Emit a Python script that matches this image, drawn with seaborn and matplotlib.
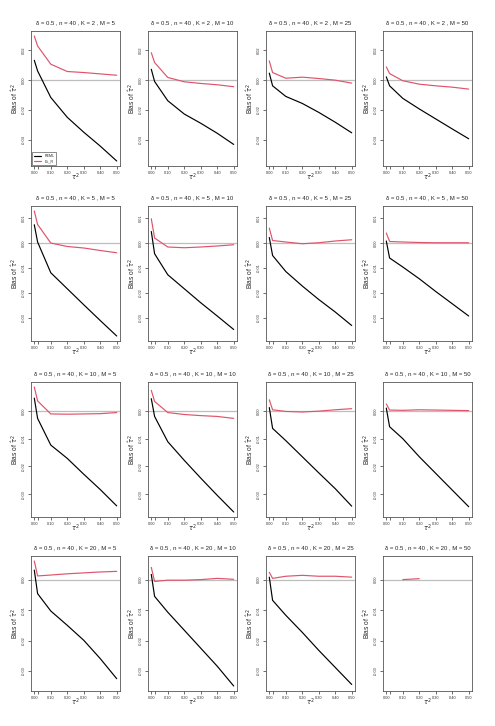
import numpy as np
import pandas as pd
import matplotlib
matplotlib.use('Agg')
import matplotlib.pyplot as plt
import seaborn as sns
from matplotlib.ticker import FormatStrFormatter, FixedLocator

# tau^2 grid and simulation settings
tau2 = [0.0, 0.02, 0.1, 0.2, 0.3, 0.4, 0.5]
K_vals = [2, 5, 10, 20]
M_vals = [5, 10, 25, 50]

# bias of tau^2 estimates, one list per M (5, 10, 25, 50)
reml_k2 = [[0.0133, 0.0062, -0.0116, -0.0249, -0.0349, -0.0442, -0.0542],
           [0.0073, -0.0009, -0.0138, -0.0227, -0.0289, -0.0356, -0.0431],
           [0.0047, -0.0038, -0.0109, -0.0156, -0.0216, -0.0282, -0.0353],
           [0.0022, -0.0038, -0.0122, -0.0193, -0.0260, -0.0327, -0.0393]]
dlr_k2 = [[0.0296, 0.0229, 0.0107, 0.0058, 0.0051, 0.0042, 0.0033],
          [0.0184, 0.0118, 0.0018, -0.0011, -0.0022, -0.0031, -0.0044],
          [0.0129, 0.0051, 0.0013, 0.0020, 0.0011, 0.0000, -0.0020],
          [0.0089, 0.0044, -0.0004, -0.0027, -0.0038, -0.0047, -0.0060]]

reml_k5 = [[0.0072, 0.0003, -0.0120, -0.0184, -0.0248, -0.0311, -0.0373],
           [0.0045, -0.0044, -0.0128, -0.0184, -0.0240, -0.0293, -0.0347],
           [0.0021, -0.0051, -0.0115, -0.0173, -0.0227, -0.0277, -0.0331],
           [0.0007, -0.0061, -0.0097, -0.0144, -0.0195, -0.0244, -0.0293]]
dlr_k5 = [[0.0127, 0.0073, -0.0001, -0.0015, -0.0021, -0.0031, -0.0040],
          [0.0096, 0.0019, -0.0017, -0.0020, -0.0017, -0.0013, -0.0008],
          [0.0059, 0.0009, 0.0003, -0.0004, 0.0000, 0.0007, 0.0012],
          [0.0039, 0.0005, 0.0003, 0.0001, 0.0000, 0.0000, 0.0000]]

reml_k10 = [[0.0046, -0.0027, -0.0123, -0.0171, -0.0228, -0.0283, -0.0342],
            [0.0044, -0.0020, -0.0111, -0.0178, -0.0242, -0.0304, -0.0364],
            [0.0012, -0.0063, -0.0107, -0.0165, -0.0223, -0.0280, -0.0343],
            [0.0010, -0.0057, -0.0100, -0.0165, -0.0225, -0.0285, -0.0345]]
dlr_k10 = [[0.0086, 0.0036, -0.0011, -0.0012, -0.0011, -0.0010, -0.0006],
           [0.0074, 0.0034, -0.0006, -0.0013, -0.0017, -0.0020, -0.0027],
           [0.0040, 0.0004, -0.0002, -0.0004, -0.0001, 0.0004, 0.0008],
           [0.0025, 0.0003, 0.0002, 0.0004, 0.0003, 0.0002, 0.0001]]

nan = np.nan
reml_k20 = [[0.0031, -0.0046, -0.0103, -0.0150, -0.0199, -0.0259, -0.0325],
            [0.0017, -0.0055, -0.0107, -0.0166, -0.0225, -0.0284, -0.0349],
            [0.0008, -0.0068, -0.0117, -0.0173, -0.0232, -0.0288, -0.0344],
            [nan, nan, nan, nan, nan, nan, nan]]
dlr_k20 = [[0.0061, 0.0012, 0.0015, 0.0019, 0.0022, 0.0025, 0.0027],
           [0.0040, -0.0006, -0.0002, -0.0002, 0.0000, 0.0004, 0.0001],
           [0.0024, 0.0004, 0.0011, 0.0014, 0.0011, 0.0011, 0.0008],
           [nan, nan, 0.0000, 0.0003, nan, nan, nan]]

reml_rows = [reml_k2, reml_k5, reml_k10, reml_k20]
dlr_rows = [dlr_k2, dlr_k5, dlr_k10, dlr_k20]
yticks_rows = [[0.02, 0.0, -0.02, -0.04],
               [0.01, 0.0, -0.01, -0.02, -0.03],
               [0.0, -0.01, -0.02, -0.03],
               [0.0, -0.01, -0.02, -0.03]]

sns.set_style('white')
plt.rcParams['font.family'] = ['Liberation Sans', 'DejaVu Sans']
plt.rcParams['mathtext.fontset'] = 'dejavusans'

W, H = 495, 726
fig = plt.figure(figsize=(W / 100, H / 100), dpi=100)
lefts = [31, 148, 266, 383]
tops = [31, 206, 382, 556]
pw, ph = 89, 135
red = '#DF536B'

for r, K in enumerate(K_vals):
    # shared y range per row, R-style 4% padding
    allv = np.array(reml_rows[r] + dlr_rows[r], dtype=float)
    lo, hi = np.nanmin(allv), np.nanmax(allv)
    pad = 0.04 * (hi - lo)
    for c, M in enumerate(M_vals):
        ax = fig.add_axes([lefts[c] / W, 1 - (tops[r] + ph) / H, pw / W, ph / H])
        ax.axhline(0, color='#BEBEBE', lw=0.9, zorder=1)
        df = pd.DataFrame({'tau2': tau2, 'REML': reml_rows[r][c], 'DL_R': dlr_rows[r][c]})
        if df['REML'].notna().any():
            sns.lineplot(data=df.dropna(subset=['REML']), x='tau2', y='REML', color='black',
                         lw=0.85, estimator=None, ax=ax, label='REML')
        if df['DL_R'].notna().any():
            sns.lineplot(data=df.dropna(subset=['DL_R']), x='tau2', y='DL_R', color=red,
                         lw=0.85, estimator=None, ax=ax, label='DL_R')
        ax.set_xlim(-0.02, 0.52)
        ax.set_ylim(lo - pad, hi + pad)
        ax.xaxis.set_major_locator(FixedLocator([0, 0.1, 0.2, 0.3, 0.4, 0.5]))
        ax.xaxis.set_minor_locator(FixedLocator([0.02]))
        ax.xaxis.set_major_formatter(FormatStrFormatter('%.2f'))
        ax.yaxis.set_major_locator(FixedLocator(yticks_rows[r]))
        ax.yaxis.set_major_formatter(FormatStrFormatter('%.2f'))
        ax.tick_params(axis='both', which='both', direction='out', length=2, width=0.5,
                       labelsize=2.8, pad=1.5, colors='#333333', bottom=True, left=True)
        ax.tick_params(axis='y', labelrotation=90)
        for lab in ax.get_yticklabels():
            lab.set_va('center')
        for s in ax.spines.values():
            s.set_color('#555555')
            s.set_linewidth(0.6)
        ax.set_xlabel(r'$\tau^2$', fontsize=4.8)
        ax.xaxis.set_label_coords(0.5, -0.04)
        ax.set_ylabel(r'Bias of $\hat{\tau}^2$', fontsize=4.8, labelpad=1)
        ax.set_title(f'δ = 0.5 , n = 40 , K = {K} , M = {M}', fontsize=4.3, pad=5)
        leg = ax.get_legend()
        if leg is not None:
            if r == 0 and c == 0:
                ax.legend(loc='lower left', fontsize=2.6, frameon=True, fancybox=False,
                          edgecolor='#333333', handlelength=2.2, borderaxespad=0.2,
                          borderpad=0.5, labelspacing=0.4)
                ax.get_legend().get_frame().set_linewidth(0.5)
            else:
                leg.remove()

fig.savefig('out.png', dpi=100)
